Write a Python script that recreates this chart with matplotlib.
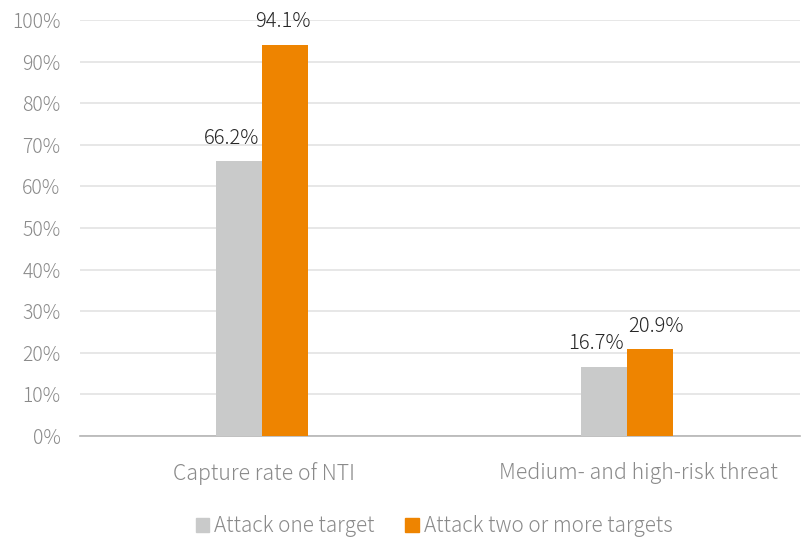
import os
import matplotlib
matplotlib.use("Agg")
import matplotlib.pyplot as plt
from matplotlib.patches import Patch
from matplotlib.font_manager import FontProperties
from matplotlib.transforms import ScaledTranslation, blended_transform_factory
import numpy as np

categories = ["Capture rate of NTI", "Medium- and high-risk threat"]
series_names = ["Attack one target", "Attack two or more targets"]
one_target = [66.2, 16.7]
two_or_more = [94.1, 20.9]
y_ticks = [0, 10, 20, 30, 40, 50, 60, 70, 80, 90, 100]

colors = ["#C9CACA", "#EE8400"]
plt.rcParams['font.family'] = ['Noto Sans CJK SC', 'DejaVu Sans']

light_path = "/usr/share/fonts/opentype/noto/NotoSansCJK-Light.ttc"
if os.path.exists(light_path):
    def fp(size):
        return FontProperties(fname=light_path, size=size)
else:
    def fp(size):
        return FontProperties(family="Noto Sans CJK SC", weight="light", size=size)

fig = plt.figure(figsize=(8.02, 5.40), dpi=100)
ax = fig.add_axes([80 / 802, (540 - 436) / 540, 720 / 802, 416 / 540])

x = np.arange(len(categories))
w = 0.126
b1 = ax.bar(x - w / 2, one_target, w, color=colors[0], zorder=3)
b2 = ax.bar(x + w / 2, two_or_more, w, color=colors[1], zorder=3)

# horizontal nudges (points) that keep neighbouring value labels apart
nudges = {(0, 0): -5.5, (0, 1): -1.5, (1, 0): -6.0, (1, 1): 4.0}
for s, (bars, vals) in enumerate(((b1, one_target), (b2, two_or_more))):
    for c, (rect, v) in enumerate(zip(bars, vals)):
        ax.text(rect.get_x() + rect.get_width() / 2, v + 2.9, f"{v:.1f}%",
                ha="center", va="bottom", fontproperties=fp(14.5),
                color="#262626", zorder=4,
                transform=ax.transData + ScaledTranslation(nudges[(c, s)] / 72, 0,
                                                           fig.dpi_scale_trans))

ax.set_xlim(-0.4986, 1.474)
ax.set_ylim(0, 100)
ax.set_yticks(y_ticks)
ax.set_yticklabels([f"{t}%" for t in y_ticks], fontproperties=fp(14))
ax.set_xticks(x)
ax.set_xticklabels([])

# category names under the axis, slightly shifted to the right
base = blended_transform_factory(ax.transData, ax.transAxes)
label_shift = [1.5, 8.0]
for xi, name, dx in zip(x, categories, label_shift):
    ax.text(xi, 0, name, ha="center", va="top", fontproperties=fp(15.3),
            color="#8A8A8A", clip_on=False,
            transform=base + ScaledTranslation(dx / 72, -19 / 72, fig.dpi_scale_trans))

ax.grid(axis="y", color="#E3E3E3", linewidth=1.2, zorder=0)
for s in ["top", "right", "left"]:
    ax.spines[s].set_visible(False)
ax.spines["bottom"].set_color("#B5B5B5")
ax.spines["bottom"].set_linewidth(1.2)
ax.tick_params(axis="both", length=0, labelcolor="#8A8A8A")
ax.tick_params(axis="y", pad=14)

handles = [Patch(color=c, label=n) for c, n in zip(colors, series_names)]
leg = fig.legend(handles=handles, loc="center", bbox_to_anchor=(434 / 802, 1 - 526 / 540),
                 ncol=2, frameon=False, prop=fp(15), handlelength=0.65, handleheight=0.65,
                 handletextpad=0.25, columnspacing=1.45)
for t in leg.get_texts():
    t.set_color("#8A8A8A")

fig.savefig("out.png", dpi=100)
